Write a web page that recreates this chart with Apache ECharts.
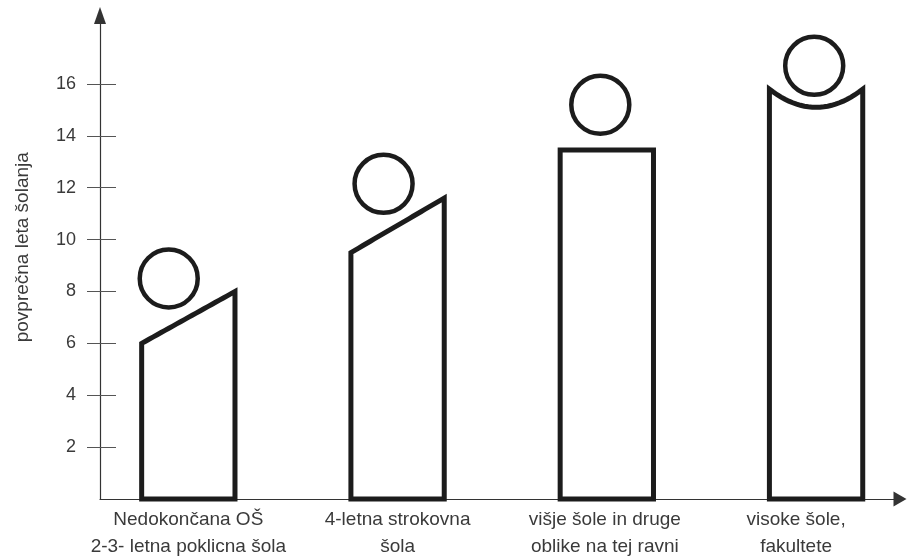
<!DOCTYPE html>
<html>
<head>
<meta charset="utf-8">
<script src="https://cdn.jsdelivr.net/npm/echarts@6/dist/echarts.min.js"></script>
<style>
html,body{margin:0;padding:0;background:#fff;}
#chart{width:907px;height:556px;}
</style>
</head>
<body>
<div id="chart"></div>
<script>
// ---- data ----
var categories = [
  'Nedokončana OŠ\n2-3- letna poklicna šola',
  '4-letna strokovna\nšola',
  'višje šole in druge\noblike na tej ravni',
  'visoke šole,\nfakultete'
];
var leftTop  = [6.0, 9.5, 13.45, 15.8];   // height of the body at its left edge
var rightTop = [8.0, 11.6, 13.45, 15.8];  // height of the body at its right edge
var topDip   = [0, 0, 0, 0.7];            // concave dip of the top edge
var headY    = [8.5, 12.15, 15.2, 16.7];  // height of the head centre
var yTicks   = [2, 4, 6, 8, 10, 12, 14, 16];
var yName    = 'povprečna leta šolanja';
var yMax     = 18.64;

// ---- style config ----
var headFrac = [0.29, 0.35, 0.43, 0.48];
var labelPad = [[0,0,0,0],[0,0,0,0],[0,4,0,0],[0,40,0,0]];
var INK = '#1c1c1c';
var FONT = 'Liberation Sans';
var TXT = '#3a3a3a';

var chart = echarts.init(document.getElementById('chart'), null, {renderer:'canvas'});

function renderItem(params, api) {
  var i = params.dataIndex;
  var base = api.coord([i, 0]);
  var band = api.size([1, 0])[0];
  var w = band * 0.446;
  var xl = base[0] - w / 2, xr = base[0] + w / 2;
  var yl = api.coord([i, leftTop[i]])[1];
  var yr = api.coord([i, rightTop[i]])[1];
  var dipPx = api.coord([i, 0])[1] - api.coord([i, topDip[i]])[1];
  var pts = [[xl, base[1]], [xl, yl]];
  var n = 24;
  for (var k = 1; k < n; k++) {
    var t = k / n;
    pts.push([xl + (xr - xl) * t, yl + (yr - yl) * t + dipPx * 4 * t * (1 - t)]);
  }
  pts.push([xr, yr], [xr, base[1]]);
  var hy = api.coord([i, headY[i]])[1];
  var hx = xl + w * headFrac[i];
  return {
    type: 'group',
    children: [
      { type: 'polygon', shape: { points: pts },
        style: { fill: '#fff', stroke: INK, lineWidth: 5, lineJoin: 'miter', miterLimit: 10 } },
      { type: 'circle', shape: { cx: hx, cy: hy, r: 29 },
        style: { fill: 'none', stroke: INK, lineWidth: 4.5 } }
    ]
  };
}

var option = {
  backgroundColor: '#fff',
  animation: false,
  grid: [
    { left: 100, right: 7, top: 15.5, bottom: 57, containLabel: false, outerBoundsMode: 'none' },
    { left: 83.7, width: 837, top: 15.5, bottom: 57, containLabel: false, outerBoundsMode: 'none' }
  ],
  xAxis: [
    { type: 'value', gridIndex: 0, min: 0, max: 1,
      axisLine: { show: true, lineStyle: { color: '#333', width: 1.2 },
                  symbol: ['none', 'triangle'], symbolSize: [15, 13] },
      axisTick: { show: false }, axisLabel: { show: false }, splitLine: { show: false } },
    { type: 'category', gridIndex: 1,
      data: categories.map(function (c, i) { return { value: c, textStyle: { padding: labelPad[i] } }; }),
      axisLine: { show: false }, axisTick: { show: false }, splitLine: { show: false },
      axisLabel: { interval: 0, fontFamily: FONT, fontSize: 19, color: TXT, lineHeight: 27, margin: 7 } }
  ],
  yAxis: [
    { type: 'value', gridIndex: 0, min: 0, max: yMax,
      name: yName, nameLocation: 'middle', nameGap: 68,
      nameTextStyle: { fontFamily: FONT, fontSize: 19, color: TXT, padding: [0, 0, 0, 20] },
      axisLine: { show: true, lineStyle: { color: '#333', width: 1.2 },
                  symbol: ['none', 'triangle'], symbolSize: [12, 17] },
      axisTick: { show: true, inside: false, length: 13, customValues: yTicks,
                  lineStyle: { color: '#555', width: 1 } },
      axisLabel: { customValues: yTicks, margin: 24, fontFamily: FONT, fontSize: 18, color: TXT },
      splitLine: { show: false } },
    { type: 'value', gridIndex: 0, min: 0, max: yMax, position: 'left',
      axisLine: { show: false },
      axisTick: { show: true, inside: true, length: 16, customValues: yTicks,
                  lineStyle: { color: '#555', width: 1 } },
      axisLabel: { show: false }, splitLine: { show: false } },
    { type: 'value', gridIndex: 1, min: 0, max: yMax, show: false }
  ],
  series: [
    { type: 'custom', xAxisIndex: 1, yAxisIndex: 2, renderItem: renderItem,
      data: categories.map(function (c, i) { return [i, rightTop[i]]; }),
      z: 5, silent: true }
  ]
};
chart.setOption(option);
</script>
</body>
</html>
